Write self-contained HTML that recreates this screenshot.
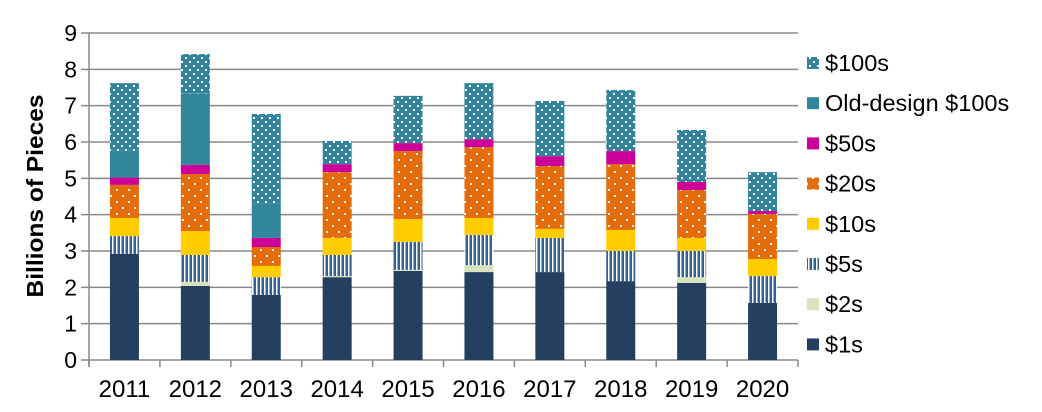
<!DOCTYPE html>
<html><head><meta charset="utf-8"><style>
body{margin:0;background:#fff;}
svg text{font-family:"Liberation Sans",Arial,sans-serif;}
</style></head><body>
<svg id="chart" width="1042" height="407" viewBox="0 0 1042 407">
<defs>
<pattern id="p100" width="8" height="8" patternUnits="userSpaceOnUse">
<rect width="8" height="8" fill="#31849B"/>
<rect x="1" y="1" width="2" height="2" fill="#fff"/><rect x="5" y="5" width="2" height="2" fill="#fff"/>
</pattern>
<pattern id="p20" width="12" height="12" patternUnits="userSpaceOnUse">
<rect width="12" height="12" fill="#E46C0A"/>
<rect x="2" y="3" width="2" height="2" fill="#fff"/><rect x="8" y="9" width="2" height="2" fill="#fff"/>
</pattern>
<pattern id="p5" width="4" height="4" patternUnits="userSpaceOnUse">
<rect width="4" height="4" fill="#376092"/>
<rect x="0" width="1.5" height="4" fill="#fff"/>
</pattern>
</defs>
<g id="grid"></g>
<g id="bars"></g>
<g id="axes"></g>
<text x="0" y="0" transform="translate(43,196) rotate(-90)" text-anchor="middle" font-size="23" font-weight="bold" fill="#000" textLength="203" lengthAdjust="spacingAndGlyphs">Billions of Pieces</text>
<g id="legend"></g>
</svg>
<script>
const years = ["2011","2012","2013","2014","2015","2016","2017","2018","2019","2020"];
const ones   = [2.92,2.04,1.79,2.28,2.45,2.42,2.42,2.17,2.12,1.57];
const twos   = [0,0.11,0,0.03,0.03,0.19,0,0,0.16,0];
const fives  = [0.49,0.74,0.49,0.58,0.77,0.83,0.94,0.83,0.72,0.74];
const tens   = [0.50,0.66,0.31,0.47,0.63,0.47,0.25,0.58,0.36,0.47];
const twenties=[0.91,1.57,0.52,1.81,1.87,1.95,1.73,1.81,1.32,1.24];
const fifties= [0.20,0.25,0.25,0.22,0.22,0.22,0.27,0.36,0.22,0.08];
const oldHundreds=[0.74,1.97,0.94,0,0,0,0,0,0,0];
const hundreds=[1.86,1.08,2.47,0.64,1.30,1.54,1.52,1.68,1.43,1.07];
const yTicks = [0,1,2,3,4,5,6,7,8,9];
const seriesNames = ["$1s","$2s","$5s","$10s","$20s","$50s","Old-design $100s","$100s"];
const seriesData = [ones,twos,fives,tens,twenties,fifties,oldHundreds,hundreds];
const fills = ["#243F60","#D7E4BD","url(#p5)","#FFCC00","url(#p20)","#CC0099","#31869B","url(#p100)"];
const NS="http://www.w3.org/2000/svg";
const X0=89,X1=798,Y0=360,YTOP=33,YMAX=9;
const y=v=>Y0-(v/YMAX)*(Y0-YTOP);
const bw=(X1-X0)/years.length;
const xc=i=>X0+bw*(i+0.5);
function mk(t,a,p){const e=document.createElementNS(NS,t);for(const k in a)e.setAttribute(k,a[k]);p.appendChild(e);return e;}
const grid=document.getElementById('grid'),bars=document.getElementById('bars'),axes=document.getElementById('axes'),legend=document.getElementById('legend');
yTicks.forEach(t=>{
  const l=mk('line',{x1:81,x2:X1,y1:y(t),y2:y(t),stroke:'#888','stroke-width':1.5},grid);
  
  
  const tx=mk('text',{x:77,y:y(t)+8,'text-anchor':'end','font-size':23,fill:'#000'},axes);tx.textContent=t;
  
  
});
const ya=mk('line',{x1:X0,x2:X0,y1:YTOP,y2:Y0+7,stroke:'#888','stroke-width':1.5},axes);


years.forEach((yr,i)=>{
  let base=0;
  seriesData.forEach((s,k)=>{
    const v=s[i]; if(v<=0)return;
    const r=mk('rect',{x:xc(i)-14.5,y:y(base+v),width:29,height:y(base)-y(base+v),fill:fills[k]},bars);
    
    
    base+=v;
  });
  const tx=mk('text',{x:xc(i),y:397,'text-anchor':'middle','font-size':24,fill:'#000'},axes);tx.textContent=yr;
  
  
});
for(let i=0;i<=years.length;i++){const tk=mk('line',{x1:X0+bw*i,x2:X0+bw*i,y1:Y0,y2:Y0+7,stroke:'#888','stroke-width':1.5},axes);
  
  }
for(let k=seriesNames.length-1;k>=0;k--){
  const row=seriesNames.length-1-k, ly=63+row*40.2;
  const g=mk('g',{},legend);
  
  
  mk('rect',{x:807,y:ly-6,width:12,height:12,fill:fills[k]},g);
  const t=mk('text',{x:825,y:ly+8,'font-size':23.5,fill:'#000'},g);t.textContent=seriesNames[k];
}
</script>
</body></html>
